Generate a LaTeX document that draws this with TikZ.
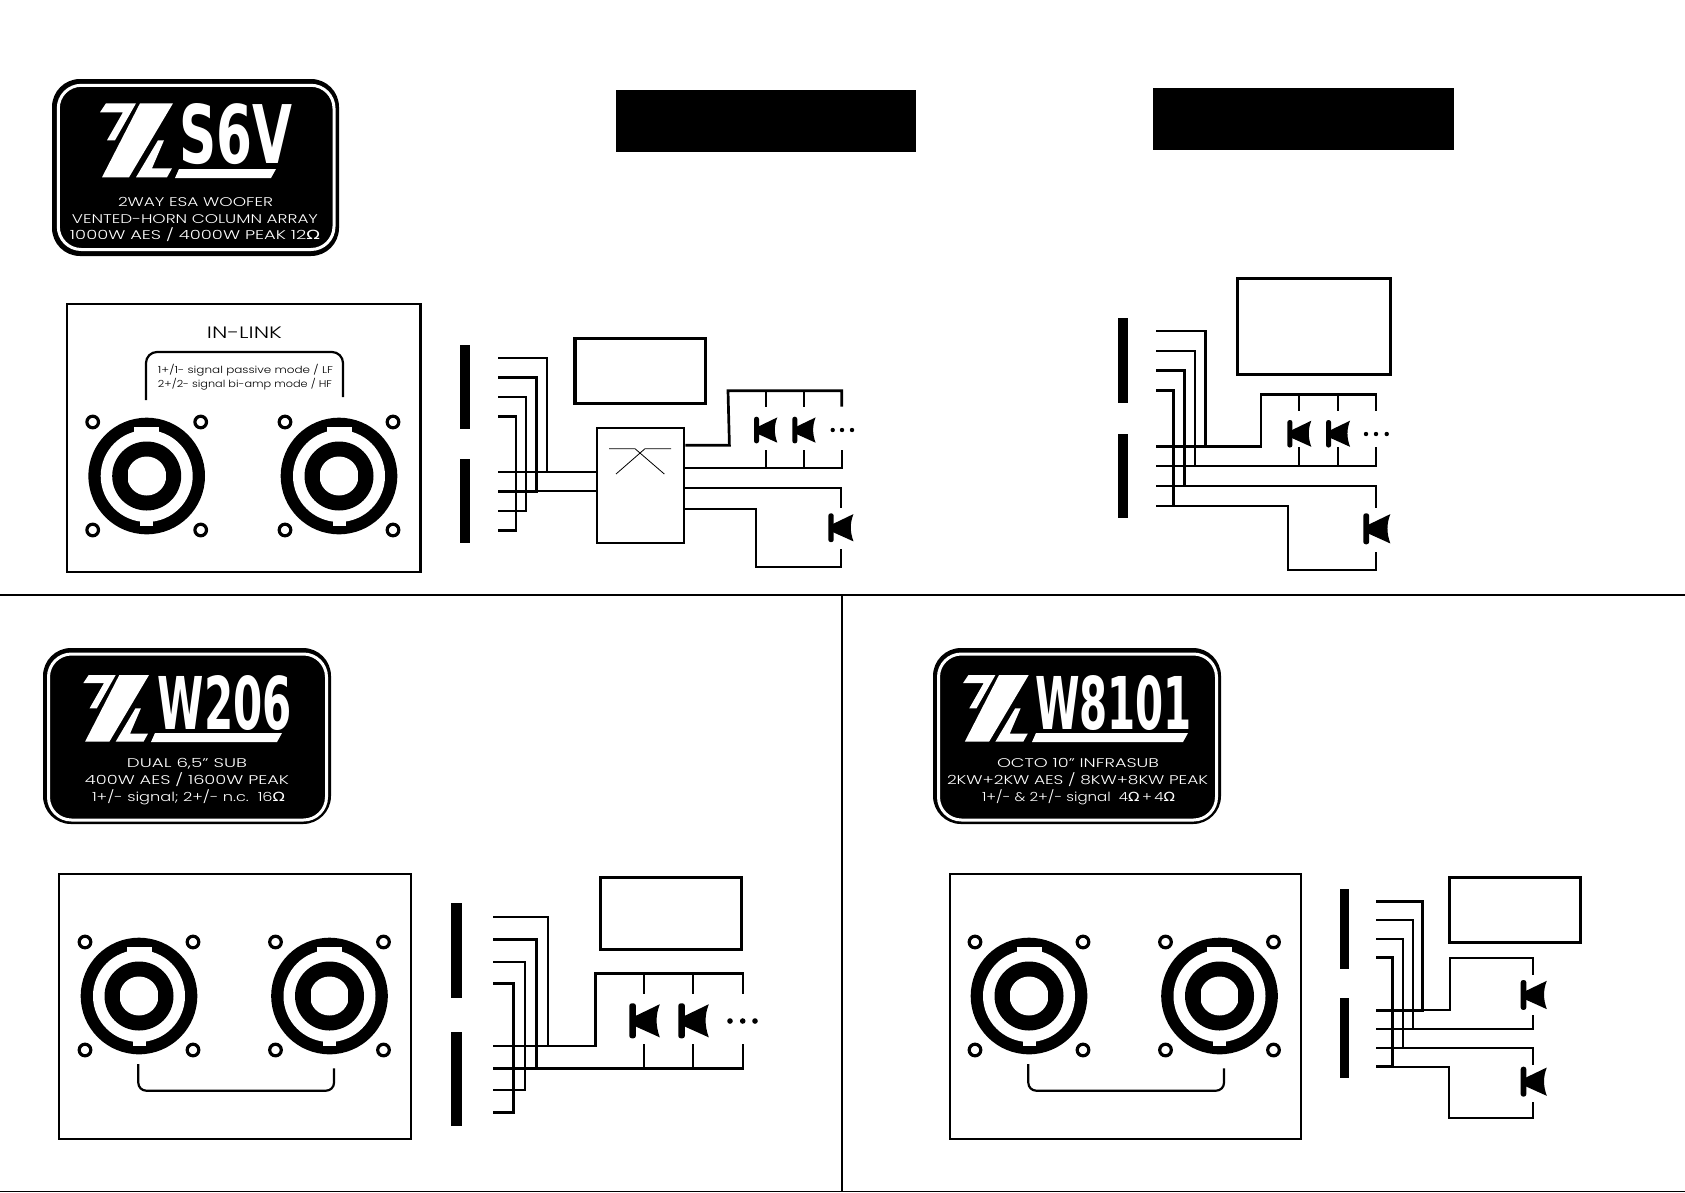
\documentclass[tikz,border=0pt]{standalone}
\usepackage{fontspec}
\usepackage{graphicx}
\setmainfont{Poppins Light}
\newfontfamily\ohmfont{DejaVu Sans}
\newfontfamily\modelfont{DejaVu Sans}
\newcommand{\ohm}{{\ohmfont Ω}}
\newcommand{\fitw}[2]{\resizebox{#1pt}{\height}{#2}}
\newcommand{\fitb}[3]{\resizebox{#1pt}{#2pt}{\modelfont\bfseries #3}}
\usetikzlibrary{calc, positioning}
\tikzset{
	wire/.style={line width=2.2pt,black},
	thickwire/.style={line width=2.7pt,black},
	panel/.style={draw=black,line width=2.2pt,fill=white},
	plate/.style={fill=black,rounded corners=28pt},
	plateline/.style={draw=white,line width=3pt,rounded corners=23pt},
	boxA/.style={draw=black,line width=3.2pt},
	lab/.style={white,inner sep=0pt,anchor=base,font=\fontsize{12.6}{14}\selectfont},
	tag/.style={black,inner sep=0pt,anchor=base,font=\fontsize{9.8}{12}\selectfont},
	model/.style={white,inner sep=0pt,anchor=base},
	speaker/.pic={
		\fill[black,rounded corners=2.4pt] (0,0) rectangle (5,26.7);
		\fill[black] (4,10) -- (23.3,0.7) .. controls (20,9) and (20,17) .. (23.3,26) -- (4,17.3) -- cycle;
	},
	speakon/.pic={
		\fill[black] (0,0) circle (58.3);
		\fill[white] (0,0) circle (46);
		\fill[white] (-12.5,-49.5) rectangle (12.5,-30);
		\fill[white] (-6.5,30) rectangle (6.5,50);
		\fill[black] (0,0) circle (34.5);
		\fill[white] (0,0) circle (19.5);
		\fill[black] (-20,-8) rectangle (-18.9,8);
		\fill[black] (18.9,-8) rectangle (20,8);
		\foreach \hx in {-54,54}
			\foreach \hy in {-54,54}
				\draw[black,line width=3.2pt] (\hx,\hy) circle (5.8);
	},
	zlmark/.pic={
		\fill[white] (6,0)--(36,0)--(15,37)--(7,37)--(23,9)--(0,9)--cycle;
		\fill[white] (40,0)--(73,0)--(29,74)--(2,74)--cycle;
		\fill[white] (58,37)--(64,37)--(52,65)--(72,65)--(67,74)--(36,74)--cycle;
	}
}
\begin{document}
\begin{tikzpicture}[x=1pt,y=-1pt]
	\useasboundingbox (0,0) rectangle (1685,1192);
	% frame lines
	\coordinate (Lmid) at (0,595);
	\coordinate (Rmid) at (1685,595);
	\coordinate (Cmid) at (842,595);
	\coordinate (Lbot) at (0,1191.2);
	\coordinate (Rbot) at (1685,1191.2);
	\draw[black,line width=2.3pt] (Lmid)--(Rmid);
	\draw[black,line width=1.2pt] (Lbot)--(Rbot);
	\draw[black,line width=1.9pt] (Cmid)--(Cmid|-Lbot);
	% blanked titles
	\fill[black] (616,90) rectangle (916,152);
	\fill[black] (1153,88) rectangle (1453.5,150);

	% plates
	\fill[plate] (52,79) rectangle (339,256);
	\draw[plateline] (58.3,85.3) rectangle (334,249.5);
	\pic at (100,103.3) {zlmark};
	\fill[white] (175,178)--(179,169)--(276,169)--(271,178)--cycle;
	\node[model] (nameS) at (235.5,163) {\fitb{113}{60}{S6V}};
	\node[lab] (s6vA) at (195.5,206.5) {\fitw{155}{2WAY ESA WOOFER}};
	\node[lab] (s6vB) at (195,223) {\fitw{246}{VENTED-HORN COLUMN ARRAY}};
	\node[lab] (s6vC) at (195,239.5) {\fitw{250}{1000W AES / 4000W PEAK 12\ohm}};

	\fill[plate] (43,648) rectangle (331,824);
	\draw[plateline] (48.5,654) rectangle (326.5,820);
	\pic[scale=0.9] at (83.3,675) {zlmark};
	\fill[white] (151,742)--(155,733)--(282,733)--(277,742)--cycle;
	\node[model] (nameW) at (225,729) {\fitb{134}{54}{W206}};
	\node[lab] (w206A) at (187,767.5) {\fitw{120}{DUAL 6,5" SUB}};
	\node[lab] (w206B) at (187,784) {\fitw{204}{400W AES / 1600W PEAK}};
	\node[lab] (w206C) at (188.5,801) {\fitw{193}{1+/- signal; 2+/- n.c.\ \ 16\ohm}};

	\fill[plate] (933,648) rectangle (1221,824);
	\draw[plateline] (938.5,654) rectangle (1216.5,820);
	\pic[scale=0.9] at (963,675) {zlmark};
	\fill[white] (1032,742)--(1036,733)--(1188,733)--(1183,742)--cycle;
	\node[model] (nameO) at (1113.5,729) {\fitb{157}{54}{W8101}};
	\node[lab] (octoA) at (1078,767.5) {\fitw{162}{OCTO 10" INFRASUB}};
	\node[lab] (octoB) at (1077.5,784) {\fitw{261}{2KW+2KW AES / 8KW+8KW PEAK}};
	\node[lab] (octoC) at (1078.5,801) {\fitw{193}{1+/- \& 2+/- signal\ \ 4\ohm\,+\,4\ohm}};

	% connector panels
	\fill[panel] (66.6,304) rectangle (420.5,572);
	\node[tag,font=\fontsize{16.5}{18}\selectfont] (inlink) at (244.5,338.5) {\fitw{75}{IN-LINK}};
	\draw[wire,rounded corners=11pt] (146,400)--(146,352)--(343,352)--(343,397);
	\node[tag] (modeA) at (245.5,373) {\fitw{175}{1+/1- signal passive mode / LF}};
	\node[tag] (modeB) at (245,387) {\fitw{174}{2+/2- signal bi-amp mode / HF}};
	\pic at (146.7,476) {speakon};
	\pic at (339,476) {speakon};

	\fill[panel] (59.3,873.6) rectangle (411.3,1139.3);
	\pic at (139,996) {speakon};
	\pic at (329.5,996) {speakon};
	\draw[wire,rounded corners=8pt] (138.3,1064)--(138.3,1090.7)--(334,1090.7)--(334,1068.3);

	\fill[panel] (950,873.6) rectangle (1301,1139.3);
	\pic at (1029,996) {speakon};
	\pic at (1219.5,996) {speakon};
	\draw[wire,rounded corners=8pt] (1028.3,1064)--(1028.3,1090.7)--(1224,1090.7)--(1224,1068.3);

	% S6V passive wiring
	\node[fill=black,inner sep=0pt,minimum width=10pt,minimum height=84pt] (barA) at (465,387) {};
	\node[fill=black,inner sep=0pt,minimum width=10pt,minimum height=83.4pt] (barB) at (465,501) {};
	\node[boxA,inner sep=0pt,minimum width=130.7pt,minimum height=65pt] (hfbox) at (640.3,370.8) {};
	\node[draw=black,line width=2.2pt,inner sep=0pt,minimum width=87.6pt,minimum height=115pt] (xover) at (640.5,485.2) {};
	\foreach \n/\y/\v in {1/358/472,2/377.3/491.3,3/397/511,4/416.3/530.3}
	{
		\coordinate (aT\n) at (498.3,\y);
		\coordinate (aB\n) at (498.3,\v);
	}
	\draw[wire] (aT1)--++(48.4,0)|-(aB1);
	\draw[thickwire] (aT2)--++(38,0)|-(aB2);
	\draw[wire] (aT3)--++(27.7,0)|-(aB3);
	\draw[thickwire] (aT4)--++(17.7,0)|-(aB4);
	\draw[wire] (aB1)--(xover.west|-aB1);
	\draw[wire] (aB2)--(xover.west|-aB2);
	\draw[black,line width=0.8pt] (609,448.7)--(635,448.7)--(664.3,474);
	\draw[black,line width=0.8pt] (671,448.7)--(645,448.7)--(616,474);
	\coordinate (aS1) at (xover.east|-0,445.3);
	\coordinate (aS2) at (xover.east|-0,467.7);
	\coordinate (aS3) at (xover.east|-0,488);
	\coordinate (aS4) at (xover.east|-0,509);
	\draw[thickwire] (aS1)--++(44,0)--(728,390.7)--(841.7,390.7)--(841.7,406.7);
	\draw[wire] (aS2)--(841.7,467.7)--(841.7,450);
	\foreach \x in {766,804}
		\draw[wire] (\x,390.7)--(\x,406.7) (\x,467.7)--(\x,450);
	\pic at (754,416.7) {speaker};
	\pic at (792.3,416.7) {speaker};
	\foreach \x in {832.7,842,852}
		\fill[black] (\x,430) circle (2.2);
	\draw[wire] (aS3)--(840.7,488)--(840.7,507.7);
	\draw[wire] (aS4)--(756,509)--(756,567.3)--(840.7,567.3)--(840.7,549.3);
	\pic[scale=1.08] at (828.3,513.3) {speaker};

	% S6V bi-amp wiring
	\node[fill=black,inner sep=0pt,minimum width=10pt,minimum height=84.7pt] (barC) at (1123,360.3) {};
	\node[fill=black,inner sep=0pt,minimum width=10pt,minimum height=83.7pt] (barD) at (1123,475.8) {};
	\node[boxA,inner sep=0pt,minimum width=153.4pt,minimum height=96pt] (biamp) at (1314,326.3) {};
	\foreach \n/\y/\v in {1/331/446.3,2/350.7/466,3/370.7/486,4/390.3/506}
	{
		\coordinate (bT\n) at (1156,\y);
		\coordinate (bB\n) at (1156,\v);
	}
	\draw[thickwire] (bT1)--++(49.7,0)|-(bB1);
	\draw[wire] (bT2)--++(39.3,0)|-(bB2);
	\draw[thickwire] (bT3)--++(28.3,0)|-(bB3);
	\draw[thickwire] (bT4)--++(17.7,0)|-(bB4);
	\draw[thickwire] (bB1)--(1261,446.3)--(1261,394.3)--(1376,394.3)--(1376,410.7);
	\draw[wire] (bB2)--(1376,466)--(1376,447.3);
	\foreach \x in {1299.3,1338}
		\draw[wire] (\x,394.3)--(\x,410.7) (\x,466)--(\x,447.3);
	\pic[scale=1.03] at (1287.3,420) {speaker};
	\pic[scale=1.03] at (1326,420) {speaker};
	\foreach \x in {1366,1376,1386.7}
		\fill[black] (\x,434) circle (2.2);
	\draw[wire] (bB3)--(1376,486)--(1376,508.3);
	\draw[wire] (bB4)--(1288.3,506)--(1288.3,570)--(1376,570)--(1376,551.7);
	\pic[scale=1.16] at (1363.3,513.3) {speaker};

	% W206 wiring
	\node[fill=black,inner sep=0pt,minimum width=11pt,minimum height=94.7pt] (barE) at (456.5,950.3) {};
	\node[fill=black,inner sep=0pt,minimum width=11pt,minimum height=93.4pt] (barF) at (456.5,1079) {};
	\node[boxA,inner sep=0pt,minimum width=141pt,minimum height=72pt] (subbox) at (671.2,913.3) {};
	\foreach \n/\y/\v in {1/917.3/1046,2/939.3/1068.3,3/961.7/1090.3,4/983.7/1112.3}
	{
		\coordinate (cT\n) at (493,\y);
		\coordinate (cB\n) at (493,\v);
	}
	\draw[wire] (cT1)--++(54.7,0)|-(cB1);
	\draw[thickwire] (cT2)--++(43.7,0)|-(cB2);
	\draw[wire] (cT3)--++(32,0)|-(cB3);
	\draw[thickwire] (cT4)--++(20.3,0)|-(cB4);
	\draw[thickwire] (cB1)--(595.3,1046)--(595.3,973.7)--(743,973.7)--(743,994.3);
	\draw[thickwire] (cB2)--(743,1068.3)--(743,1044);
	\foreach \x in {644.3,693.3}
		\draw[wire] (\x,973.7)--(\x,994.3) (\x,1068.3)--(\x,1044);
	\pic[scale=1.31] at (629.3,1003.3) {speaker};
	\pic[scale=1.31] at (678.3,1003.3) {speaker};
	\foreach \x in {730,742.7,755}
		\fill[black] (\x,1021) circle (2.8);

	% W8101 wiring
	\node[fill=black,inner sep=0pt,minimum width=9pt,minimum height=79.7pt] (barG) at (1344.5,928.8) {};
	\node[fill=black,inner sep=0pt,minimum width=9pt,minimum height=79.7pt] (barH) at (1344.5,1037.8) {};
	\node[boxA,line width=2.8pt,inner sep=0pt,minimum width=131.4pt,minimum height=65pt] (octobox) at (1515,909.8) {};
	\foreach \n/\y/\v in {1/901.3/1010.3,2/920/1029,3/939/1048,4/957.3/1066.7}
	{
		\coordinate (dT\n) at (1376,\y);
		\coordinate (dB\n) at (1376,\v);
	}
	\draw[thickwire] (dT1)--++(46.7,0)|-(dB1);
	\draw[wire] (dT2)--++(36.7,0)|-(dB2);
	\draw[wire] (dT3)--++(26.7,0)|-(dB3);
	\draw[thickwire] (dT4)--++(16.7,0)|-(dB4);
	\draw[wire] (dB1)--(1450,1010.3)--(1450,957.7)--(1533.3,957.7)--(1533.3,975);
	\draw[wire] (dB2)--(1533.3,1029)--(1533.3,1015);
	\pic[scale=1.12] at (1520.7,980) {speaker};
	\draw[wire] (dB3)--(1532.7,1048)--(1532.7,1065);
	\draw[wire] (dB4)--(1449,1066.7)--(1449,1118.3)--(1532.7,1118.3)--(1532.7,1102.3);
	\pic[scale=1.12] at (1520.7,1066.7) {speaker};
\end{tikzpicture}
\end{document}
